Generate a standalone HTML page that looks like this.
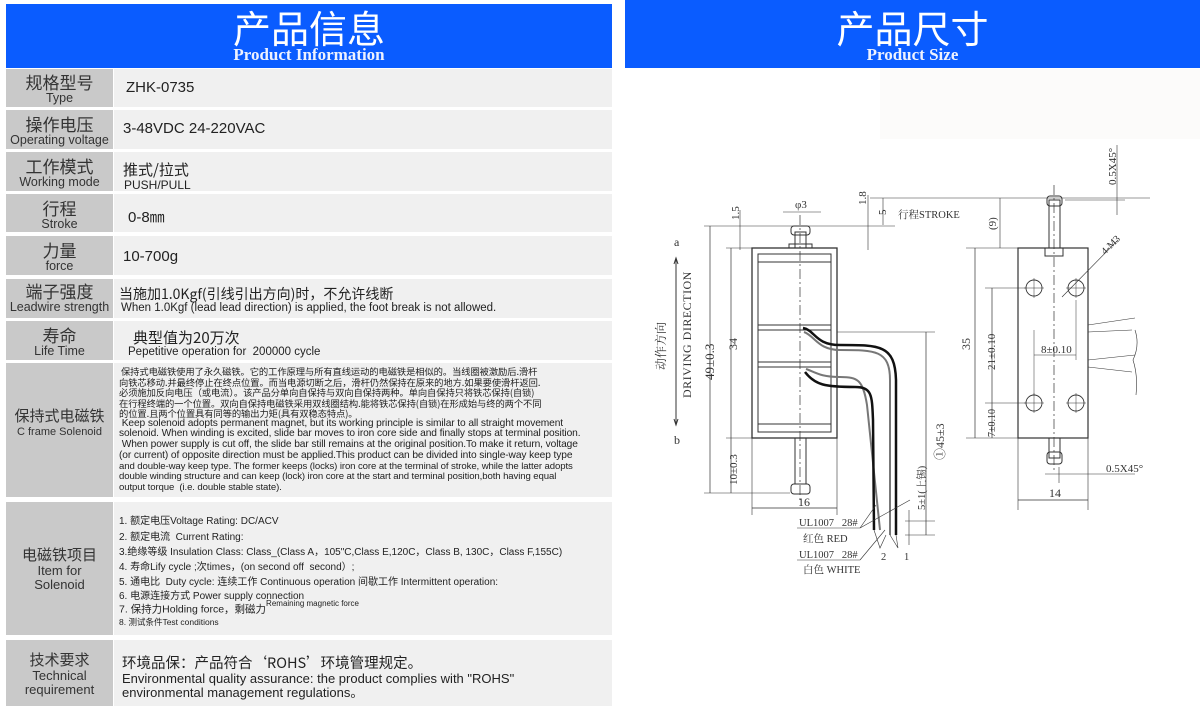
<!DOCTYPE html>
<html><head><meta charset="utf-8"><style>
*{margin:0;padding:0;box-sizing:border-box}
body{width:1200px;height:711px;background:#fff;position:relative;overflow:hidden;font-family:"Liberation Sans","Noto Sans CJK SC",sans-serif;color:#222}
.a{position:absolute;white-space:nowrap}
.hd{position:absolute;background:#0a5cff;color:#fff;text-align:center}
.hd .c{font-family:"Noto Sans CJK SC",sans-serif;font-size:38px;line-height:40px;margin-top:3px}
.hd .e{font-family:"Liberation Serif",serif;font-weight:bold;font-size:17px;line-height:16px;color:#eef2ff}
.l{position:absolute;left:6px;width:107px;background:#c9c9c9;text-align:center;color:#333}
.v{position:absolute;left:114px;width:498px;background:#f0f0f0}
.lc{font-size:17px;line-height:18px;font-family:"Noto Sans CJK SC",sans-serif}
.le{font-size:12.5px;line-height:14px}
svg text{font-family:"Liberation Serif","Noto Serif CJK SC",serif;fill:#333}
</style></head><body>
<div class="hd" style="left:6px;top:4px;width:606px;height:64px"><div class="c">产品信息</div><div class="e">Product Information</div></div>
<div class="hd" style="left:625px;top:0;width:575px;height:68px"><div class="c" style="margin-top:7px">产品尺寸</div><div class="e">Product Size</div></div>
<div style="position:absolute;left:880px;top:69px;width:320px;height:70px;background:#fcfbfa"></div>

<div class="l" style="top:69px;height:38px;padding-top:4px"><div class="lc">规格型号</div><div class="le">Type</div></div>
<div class="v" style="top:69px;height:38px"><div class="a" style="left:12px;top:10px;font-size:15px">ZHK-0735</div></div>

<div class="l" style="top:110px;height:39px;padding-top:5px"><div class="lc">操作电压</div><div class="le">Operating voltage</div></div>
<div class="v" style="top:110px;height:39px"><div class="a" style="left:9px;top:10px;font-size:15px">3-48VDC 24-220VAC</div></div>

<div class="l" style="top:152px;height:39px;padding-top:5px"><div class="lc">工作模式</div><div class="le">Working mode</div></div>
<div class="v" style="top:152px;height:39px"><div class="a" style="left:9px;top:7px;font-size:15px;font-family:'Noto Sans CJK SC',sans-serif">推式/拉式</div><div class="a" style="left:10px;top:26px;font-size:12px">PUSH/PULL</div></div>

<div class="l" style="top:194px;height:38px;padding-top:5px"><div class="lc">行程</div><div class="le">Stroke</div></div>
<div class="v" style="top:194px;height:38px"><div class="a" style="left:14px;top:12px;font-size:15px">0-8㎜</div></div>

<div class="l" style="top:236px;height:39px;padding-top:5px"><div class="lc">力量</div><div class="le">force</div></div>
<div class="v" style="top:236px;height:39px"><div class="a" style="left:9px;top:12px;font-size:15px">10-700g</div></div>

<div class="l" style="top:279px;height:39px;padding-top:3px"><div class="lc">端子强度</div><div class="le">Leadwire strength</div></div>
<div class="v" style="top:279px;height:39px"><div class="a" style="left:5px;top:5px;font-size:14px;font-family:'Noto Sans CJK SC',sans-serif">当施加1.0Kgf(引线引出方向)时，不允许线断</div><div class="a" style="left:7px;top:23px;font-size:11.5px">When 1.0Kgf (lead lead direction) is applied, the foot break is not allowed.</div></div>

<div class="l" style="top:321px;height:39px;padding-top:5px"><div class="lc">寿命</div><div class="le">Life Time</div></div>
<div class="v" style="top:321px;height:39px"><div class="a" style="left:19px;top:6px;font-size:15px;font-family:'Noto Sans CJK SC',sans-serif">典型值为20万次</div><div class="a" style="left:14px;top:25px;font-size:11.5px">Pepetitive operation for&nbsp; 200000 cycle</div></div>

<div class="l" style="top:363px;height:134px;padding-top:44px"><div class="lc" style="font-size:15px">保持式电磁铁</div><div class="le" style="font-size:11px">C frame Solenoid</div></div>
<div class="v" style="top:363px;height:134px;font-size:9.6px;line-height:10.5px;padding:3px 0 0 5px;letter-spacing:-0.1px">
<div style="font-family:'Noto Sans CJK SC',sans-serif;font-size:9.3px">&nbsp;保持式电磁铁使用了永久磁铁。它的工作原理与所有直线运动的电磁铁是相似的。当线圈被激励后.滑杆<br>向铁芯移动.并最终停止在终点位置。而当电源切断之后，滑杆仍然保持在原来的地方.如果要使滑杆返回.<br>必须施加反向电压（或电流）。该产品分单向自保持与双向自保持两种。单向自保持只将铁芯保持(自锁)<br>在行程终端的一个位置。双向自保持电磁铁采用双线圈结构.能将铁芯保持(自锁)在形成始与终的两个不同<br>的位置.且两个位置具有同等的输出力矩(具有双稳态特点)。</div>
<div style="font-size:10.2px;line-height:10.8px">&nbsp;Keep solenoid adopts permanent magnet, but its working principle is similar to all straight movement<br>solenoid. When winding is excited, slide bar moves to iron core side and finally stops at terminal position.<br>&nbsp;When power supply is cut off, the slide bar still remains at the original position.To make it return, voltage<br>(or current) of opposite direction must be applied.This product can be divided into single-way keep type<br><span style="font-size:9.6px">and double-way keep type. The former keeps (locks) iron core at the terminal of stroke, while the latter adopts<br>double winding structure and can keep (lock) iron core at the start and terminal position,both having equal<br>output torque&nbsp; (i.e. double stable state).</span></div>
</div>

<div class="l" style="top:502px;height:133px;padding-top:44px"><div class="lc" style="font-size:15px">电磁铁项目</div><div class="le" style="font-size:13px">Item for<br>Solenoid</div></div>
<div class="v" style="top:502px;height:133px;font-size:10px;font-family:'Liberation Sans','Noto Sans CJK SC',sans-serif">
<div class="a" style="left:5px;top:10px">1. 额定电压Voltage Rating: DC/ACV</div>
<div class="a" style="left:5px;top:26px">2. 额定电流&nbsp; Current Rating:</div>
<div class="a" style="left:5px;top:41px">3.绝缘等级 Insulation Class: Class_(Class A，105"C,Class E,120C，Class B, 130C，Class F,155C)</div>
<div class="a" style="left:5px;top:56px">4. 寿命Lify cycle ;次times，(on second off&nbsp; second）;</div>
<div class="a" style="left:5px;top:71px">5. 通电比&nbsp; Duty cycle: 连续工作 Continuous operation 间歇工作 Intermittent operation:</div>
<div class="a" style="left:5px;top:85px">6. 电源连接方式 Power supply connection</div>
<div class="a" style="left:5px;top:99px;font-size:10.5px">7. 保持力Holding force，剩磁力<sup style="font-size:8px;position:relative;top:-2px">Remaining magnetic force</sup></div>
<div class="a" style="left:5px;top:114px;font-size:8.5px">8. 测试条件Test conditions</div>
</div>

<div class="l" style="top:640px;height:66px;padding-top:11px"><div class="lc" style="font-size:15px">技术要求</div><div class="le" style="font-size:13px">Technical<br>requirement</div></div>
<div class="v" style="top:640px;height:66px">
<div class="a" style="left:8px;top:12px;font-size:14.5px;font-family:'Noto Sans CJK SC',sans-serif">环境品保：产品符合‘ROHS’环境管理规定。</div>
<div class="a" style="left:8px;top:32px;font-size:13px;line-height:14px">Environmental quality assurance: the product complies with "ROHS"<br>environmental management regulations。</div>
</div>

<svg class="a" style="left:0;top:0" width="1200" height="711" viewBox="0 0 1200 711" fill="none" stroke="#333" stroke-width="1">
<line x1="676" y1="258" x2="676" y2="425"/>
<path d="M674 264 L676 258 L678 264 M674 419 L676 425 L678 419" />
<text x="674" y="246" font-size="12" stroke="none">a</text>
<text x="674" y="444" font-size="12" stroke="none">b</text>
<text transform="translate(665,370) rotate(-90)" font-size="12" stroke="none">动作方向</text>
<text transform="translate(691,398) rotate(-90)" font-size="12" stroke="none" letter-spacing="0.5">DRIVING DIRECTION</text>
<rect x="752" y="248" width="85" height="190" stroke-width="1.3"/>
<rect x="758" y="254" width="73" height="178"/>
<line x1="758" y1="262" x2="831" y2="262"/>
<line x1="758" y1="325" x2="831" y2="325"/><line x1="758" y1="330" x2="831" y2="330"/>
<line x1="758" y1="362" x2="831" y2="362"/><line x1="758" y1="367" x2="831" y2="367"/>
<line x1="758" y1="424" x2="831" y2="424"/>
<rect x="795" y="232" width="11" height="16"/>
<rect x="789" y="244" width="23" height="4"/>
<rect x="791" y="226" width="19" height="9" rx="3"/>
<rect x="795" y="438" width="11" height="46"/>
<rect x="791" y="484" width="19" height="10" rx="3"/>
<line x1="800" y1="215" x2="800" y2="500" stroke-dasharray="10,3,2,3" stroke-width="0.7"/>
<path d="M803 328 C815 330 815 345 840 345 C880 345 895 345 896 380 L896 535" stroke="#111" stroke-width="2.5"/>
<path d="M804 332 C815 336 818 350 840 350 C875 350 890 350 890 380 L890 535" stroke="#777" stroke-width="2"/>
<path d="M806 369 C815 372 820 377 840 377 C858 377 863 380 867 405 L880 530" stroke="#777" stroke-width="2"/>
<path d="M805 372 C815 385 825 387 855 387 C872 387 872 395 873 420 L874 530" stroke="#111" stroke-width="2.5"/>
<line x1="704" y1="226" x2="790" y2="226" stroke-width="0.6"/>
<line x1="704" y1="493" x2="790" y2="493" stroke-width="0.6"/>
<line x1="710" y1="226" x2="710" y2="493" stroke-width="0.7"/>
<text transform="translate(714,380) rotate(-90)" font-size="13" stroke="none">49±0.3</text>
<line x1="731" y1="248" x2="731" y2="493" stroke-width="0.7"/>
<line x1="726" y1="248" x2="752" y2="248" stroke-width="0.6"/>
<line x1="726" y1="438" x2="752" y2="438" stroke-width="0.6"/>
<text transform="translate(737,350) rotate(-90)" font-size="12" stroke="none">34</text>
<text transform="translate(737,485) rotate(-90)" font-size="11" stroke="none">10±0.3</text>
<line x1="740" y1="210" x2="740" y2="250" stroke-width="0.6"/>
<text transform="translate(739,220) rotate(-90)" font-size="11" stroke="none">1.5</text>
<line x1="783" y1="212" x2="821" y2="212" stroke-width="0.6"/>
<text x="795" y="208" font-size="11" stroke="none">φ3</text>
<line x1="868" y1="195" x2="868" y2="250" stroke-width="0.6"/>
<text transform="translate(866,205) rotate(-90)" font-size="11" stroke="none">1.8</text>
<line x1="883" y1="198" x2="883" y2="225" stroke-width="0.6"/>
<line x1="870" y1="198" x2="1000" y2="198" stroke-width="0.6"/>
<line x1="790" y1="226" x2="895" y2="226" stroke-width="0.6"/>
<text transform="translate(886,215) rotate(-90)" font-size="11" stroke="none">5</text>
<text x="898" y="218" font-size="10.5" stroke="none">行程STROKE</text>
<line x1="752" y1="438" x2="752" y2="515" stroke-width="0.6"/>
<line x1="837" y1="438" x2="837" y2="515" stroke-width="0.6"/>
<line x1="752" y1="508" x2="837" y2="508" stroke-width="0.7"/>
<text x="798" y="506" font-size="12" stroke="none">16</text>
<line x1="837" y1="332" x2="935" y2="332" stroke-width="0.6"/>
<line x1="926" y1="332" x2="926" y2="535" stroke-width="0.7"/>
<line x1="905" y1="535" x2="935" y2="535" stroke-width="0.6"/>
<line x1="905" y1="521" x2="935" y2="521" stroke-width="0.6"/>
<text transform="translate(944,460) rotate(-90)" font-size="12" stroke="none">①45±3</text>
<line x1="909" y1="510" x2="909" y2="545" stroke-width="0.6"/>
<text transform="translate(925,510) rotate(-90)" font-size="10.5" stroke="none">5±1(上锡)</text>
<line x1="797" y1="528" x2="860" y2="528" stroke-width="0.6"/><line x1="860" y1="528" x2="876" y2="505" stroke-width="0.6"/><line x1="860" y1="528" x2="910" y2="500" stroke-width="0.6"/>
<text x="799" y="526" font-size="10.5" stroke="none">UL1007&#160;&#160; 28#</text>
<text x="803" y="542" font-size="10.5" stroke="none">红色 RED</text>
<line x1="797" y1="560" x2="860" y2="560" stroke-width="0.6"/><line x1="860" y1="560" x2="885" y2="530" stroke-width="0.6"/>
<text x="799" y="558" font-size="10.5" stroke="none">UL1007&#160;&#160; 28#</text>
<text x="803" y="573" font-size="10.5" stroke="none">白色 WHITE</text>
<path d="M874 530 L880 548 L886 535 M890 535 L898 548 L896 535" stroke-width="0.6"/>
<text x="881" y="560" font-size="10.5" stroke="none">2</text>
<text x="904" y="560" font-size="10.5" stroke="none">1</text>
<rect x="1018" y="248" width="70" height="190" stroke-width="1.2"/>
<rect x="1045" y="248" width="18" height="8"/>
<rect x="1049" y="200" width="11" height="48"/>
<rect x="1047" y="196" width="15" height="10" rx="3"/>
<rect x="1049" y="438" width="11" height="20"/>
<rect x="1047" y="452" width="15" height="12" rx="3"/>
<line x1="1054" y1="185" x2="1054" y2="470" stroke-dasharray="10,3,2,3" stroke-width="0.7"/>
<g stroke-width="0.9"><circle cx="1034" cy="288" r="8"/><circle cx="1076" cy="288" r="8"/><circle cx="1034" cy="403" r="8"/><circle cx="1076" cy="403" r="8"/>
<path d="M1024 288h20M1034 278v20M1066 288h20M1076 278v20M1024 403h20M1034 393v20M1066 403h20M1076 393v20" stroke-width="0.5"/></g>
<line x1="1062" y1="297" x2="1118" y2="240" stroke-width="0.6"/>
<text transform="translate(1105,255) rotate(-45)" font-size="10" stroke="none">4-M3</text>
<line x1="1000" y1="198" x2="1150" y2="198" stroke-width="0.6"/>
<line x1="1000" y1="198" x2="1000" y2="248" stroke-width="0.6"/>
<text transform="translate(996,230) rotate(-90)" font-size="11" stroke="none">(9)</text>
<line x1="966" y1="248" x2="1018" y2="248" stroke-width="0.6"/>
<line x1="966" y1="438" x2="1018" y2="438" stroke-width="0.6"/>
<line x1="975" y1="248" x2="975" y2="438" stroke-width="0.7"/>
<text transform="translate(970,350) rotate(-90)" font-size="12" stroke="none">35</text>
<line x1="985" y1="288" x2="1026" y2="288" stroke-width="0.6"/>
<line x1="985" y1="403" x2="1026" y2="403" stroke-width="0.6"/>
<line x1="992" y1="288" x2="992" y2="438" stroke-width="0.7"/>
<text transform="translate(995,370) rotate(-90)" font-size="11" stroke="none">21±0.10</text>
<text transform="translate(995,437) rotate(-90)" font-size="10" stroke="none">7±0.10</text>
<line x1="1034" y1="355" x2="1076" y2="355" stroke-width="0.6"/>
<line x1="1034" y1="330" x2="1034" y2="395" stroke-width="0.5"/>
<line x1="1076" y1="300" x2="1076" y2="360" stroke-width="0.5"/>
<text x="1041" y="353" font-size="11" stroke="none">8±0.10</text>
<line x1="1018" y1="438" x2="1018" y2="510" stroke-width="0.6"/>
<line x1="1088" y1="438" x2="1088" y2="510" stroke-width="0.6"/>
<line x1="1018" y1="500" x2="1088" y2="500" stroke-width="0.7"/>
<text x="1049" y="497" font-size="12" stroke="none">14</text>
<line x1="1045" y1="474" x2="1135" y2="474" stroke-width="0.6"/>
<line x1="1059" y1="467" x2="1059" y2="483" stroke-width="0.6"/>
<text x="1106" y="472" font-size="11" stroke="none">0.5X45°</text>
<line x1="1117" y1="145" x2="1117" y2="215" stroke-width="0.6"/>
<line x1="1065" y1="200" x2="1125" y2="200" stroke-width="0.6"/>
<text transform="translate(1116,185) rotate(-90)" font-size="11" stroke="none">0.5X45°</text>
<path d="M1088 325 L1135 318 M1088 332 L1132 330 M1088 360 L1135 355 M1088 367 L1132 372" stroke-width="0.6"/>
<path d="M1135 330 Q1140 345 1133 360 Q1138 375 1136 395" stroke-width="0.6"/>
</svg>
</body></html>
